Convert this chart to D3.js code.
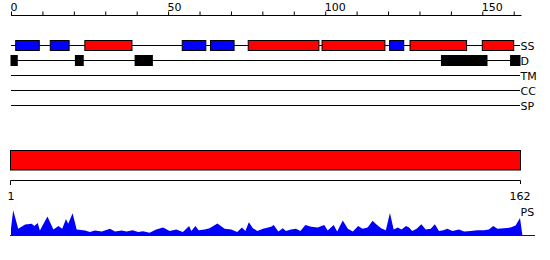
<!DOCTYPE html>
<html>
<head>
<meta charset="utf-8">
<script src="https://cdn.jsdelivr.net/npm/d3@7"></script>
<style>
  body { margin: 0; background: #fff; }
  svg text { font-family: "DejaVu Sans", sans-serif; font-size: 11px; fill: #000; }
</style>
</head>
<body>
<svg id="chart"></svg>
<script>
// sequence length and track names
const seqRange = [1, 162]
const tracks = ["SS", "D", "TM", "CC", "SP"]

// secondary structure segments (start, end, type)
const ssStart = [1.5, 12.5, 23.5, 54.5, 63.5, 75.5, 99, 120.5, 127, 150]
const ssEnd   = [9, 18.5, 38.5, 62, 71, 98, 119, 125, 145, 160]
const ssType  = ["H", "H", "E", "H", "H", "E", "E", "H", "E", "E"]

// disordered regions
const dStart = [0, 20.5, 39.5, 137, 159]
const dEnd   = [2, 23, 45, 151.5, 162]

// profile score (position, value)
const psPos = [0, 0.7, 2.3, 4.5, 6.6, 7.4, 8.5, 9.2, 11.6, 13.5, 15.1, 16.3, 17.5, 18.2, 19.6, 20.9,
  23.6, 25.1, 26.7, 28.9, 31.5, 33.1, 35.2, 36.8, 38.7, 40.5, 42, 44.1, 46.2, 48.4, 50.5, 52.6,
  54.7, 56.7, 57.4, 58.7, 59.7, 61.6, 63.2, 65.7, 68, 70.1, 72, 73.5, 74.6, 75.7, 77, 78.4,
  80.2, 82.8, 83.6, 85.1, 86.5, 87.5, 89.1, 90.7, 92.1, 93.7, 95.5, 97.6, 99.7, 100.8, 102.7,
  103.8, 105.6, 107.2, 108.8, 110.5, 111.9, 113.5, 115.1, 116.5, 117.8, 119.3, 120.6, 121.8,
  123.1, 124.3, 125.7, 126.7, 127.7, 129.1, 130.6, 132, 133.6, 134.9, 136.2, 137.6, 138.9,
  140.5, 142.6, 144.2, 146.3, 148.4, 150.5, 152.1, 153.5, 154.8, 156.9, 159, 160.6, 162, 162.8]
const psVal = [0.25, 0.86, 0.24, 0.38, 0.41, 0.33, 0.43, 0.18, 0.65, 0.22, 0.33, 0.24, 0.57, 0.41, 0.76, 0.22,
  0.18, 0.13, 0.18, 0.15, 0.24, 0.15, 0.18, 0.15, 0.19, 0.13, 0.16, 0.11, 0.22, 0.28, 0.17, 0.22,
  0.13, 0.33, 0.17, 0.33, 0.19, 0.22, 0.26, 0.42, 0.24, 0.22, 0.13, 0.28, 0.17, 0.46, 0.26, 0.17,
  0.24, 0.31, 0.37, 0.15, 0.26, 0.17, 0.22, 0.24, 0.17, 0.37, 0.31, 0.28, 0.37, 0.18, 0.37,
  0.15, 0.52, 0.24, 0.15, 0.33, 0.24, 0.28, 0.51, 0.37, 0.26, 0.19, 0.77, 0.22,
  0.28, 0.22, 0.33, 0.28, 0.17, 0.24, 0.39, 0.22, 0.24, 0.39, 0.17, 0.19, 0.24,
  0.17, 0.22, 0.15, 0.17, 0.19, 0.19, 0.22, 0.33, 0.24, 0.26, 0.28, 0.35, 0.60, 0]

function FeatureChart(id, width = 550, height = 260) {

  const svg = d3.select(`#${id}`)
                .attr("width", width)
                .attr("height", height)

  const x = d3.scaleLinear()
              .domain([0, seqRange[1]])
              .range([11, 520])

  const colors = {H: "#0000ff", E: "#ff0000"}

  // top ruler
  const axis = d3.axisTop(x)
                 .ticks(16)
                 .tickSize(4)
                 .tickSizeOuter(0)
                 .tickPadding(1)
                 .tickFormat(d => d % 50 === 0 ? d : "")

  const ag = svg.append("g")
                .attr("transform", "translate(0,15.5)")
                .call(axis)
  ag.attr("font-family", null).attr("font-size", null)
  ag.select(".domain").attr("d", `M${x(0)},0H${x.range()[1] + 1.5}`)
  ag.selectAll(".tick text")
    .attr("text-anchor", "start")
    .attr("x", -1)

  // track lines and labels
  const ty = d3.scalePoint().domain(tracks).range([45.5, 105.5])

  svg.selectAll("line.track")
     .data(tracks)
     .join("line")
       .attr("class", "track")
       .attr("x1", x(0))
       .attr("x2", x(seqRange[1]))
       .attr("y1", d => ty(d))
       .attr("y2", d => ty(d))
       .attr("stroke", "#000")

  svg.selectAll("text.tlabel")
     .data(tracks)
     .join("text")
       .attr("class", "tlabel")
       .attr("x", x(seqRange[1]) + 0.5)
       .attr("y", d => ty(d) + 4)
       .text(d => d)

  // secondary structure boxes
  svg.selectAll("rect.ss")
     .data(d3.range(ssStart.length))
     .join("rect")
       .attr("class", "ss")
       .attr("x", i => x(ssStart[i]))
       .attr("width", i => x(ssEnd[i]) - x(ssStart[i]))
       .attr("y", ty("SS") - 5)
       .attr("height", 10)
       .attr("fill", i => colors[ssType[i]])
       .attr("stroke", "#000")

  // disorder boxes
  svg.selectAll("rect.dis")
     .data(d3.range(dStart.length))
     .join("rect")
       .attr("class", "dis")
       .attr("x", i => x(dStart[i]) - 0.5)
       .attr("width", i => x(dEnd[i]) - x(dStart[i]) + 1)
       .attr("y", ty("D") - 5.5)
       .attr("height", 11)
       .attr("fill", "#000")

  // whole-sequence bar
  svg.append("rect")
     .attr("x", x(0) - 0.5)
     .attr("width", x(seqRange[1]) - x(0) + 1)
     .attr("y", 150.5)
     .attr("height", 19.5)
     .attr("fill", "#ff0000")
     .attr("stroke", "#000")

  svg.append("path")
     .attr("d", `M${x(0) - 0.5},185V180.5H${x(seqRange[1]) + 0.5}V184`)
     .attr("fill", "none")
     .attr("stroke", "#000")

  svg.selectAll("text.range")
     .data(seqRange)
     .join("text")
       .attr("class", "range")
       .attr("x", (d, i) => i === 0 ? x(0) : x(seqRange[1]))
       .attr("y", 200)
       .attr("text-anchor", "middle")
       .text(d => d)

  // profile score area
  const y = d3.scaleLinear().domain([0, 1]).range([236, 206])

  const area = d3.area()
                 .x(i => x(psPos[i]))
                 .y0(y(0))
                 .y1(i => y(psVal[i]))

  svg.append("path")
     .datum(d3.range(psPos.length))
     .attr("d", area)
     .attr("fill", "#0000ff")

  svg.append("line")
     .attr("x1", x(0) - 1)
     .attr("x2", 535)
     .attr("y1", 235.5)
     .attr("y2", 235.5)
     .attr("stroke", "#0000ff")

  svg.append("text")
     .attr("x", x(seqRange[1]) + 0.5)
     .attr("y", 215.5)
     .text("PS")
}

FeatureChart("chart")
</script>
</body>
</html>
